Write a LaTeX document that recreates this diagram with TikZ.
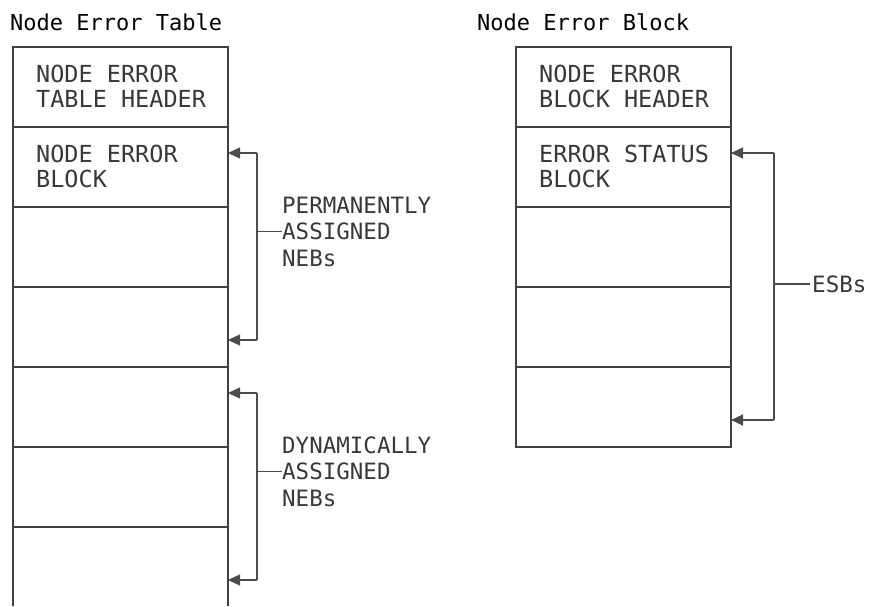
\documentclass[tikz,border=0pt]{standalone}
\usepackage{fontspec}
\newfontfamily\monofam{DejaVu Sans Mono}
\usetikzlibrary{arrows.meta}
\begin{document}
\begin{tikzpicture}[x=1pt,y=-1pt,
  row/.style={draw=black!75, line width=1.2pt, minimum width=215pt, minimum height=80pt, inner sep=0pt, outer sep=0pt, anchor=north west},
  openrow/.style={minimum width=215pt, minimum height=79pt, inner sep=0pt, outer sep=0pt, anchor=north west},
  boxtext/.style={font=\monofam\fontsize{23.5}{25}\selectfont, align=left, anchor=west, inner sep=0pt, text=black!78},
  brtext/.style={font=\monofam\fontsize{22.5}{26.5}\selectfont, align=left, anchor=west, inner sep=0pt, text=black!78},
  titletext/.style={font=\monofam\fontsize{22}{24}\selectfont, anchor=base west, inner sep=0pt, text=black},
  brline/.style={draw=black!70, line width=1.2pt},
  brarrow/.style={brline, -{Triangle[length=12pt,width=11pt]}}]
\useasboundingbox (0,0) rectangle (870,606);

% titles
\node[titletext] (title1) at (10,30) {Node Error Table};
\node[titletext] (title2) at (477,30) {Node Error Block};

% left table
\node[row] (r1) at (13,47) {};
\node[row] (r2) at (13,127) {};
\node[row] (r3) at (13,207) {};
\node[row] (r4) at (13,287) {};
\node[row] (r5) at (13,367) {};
\node[row] (r6) at (13,447) {};
\node[openrow] (r7) at (13,527) {};
\draw[draw=black!75, line width=1.2pt] (r7.north west) -- (r7.south west);
\draw[draw=black!75, line width=1.2pt] (r7.north east) -- (r7.south east);
\node[boxtext] (t1) at (36,86.5) {NODE ERROR\\TABLE HEADER};
\node[boxtext] (t2) at (36,166.5) {NODE ERROR\\BLOCK};

% right table
\node[row] (s1) at (516,47) {};
\node[row] (s2) at (516,127) {};
\node[row] (s3) at (516,207) {};
\node[row] (s4) at (516,287) {};
\node[row] (s5) at (516,367) {};
\node[boxtext] (u1) at (539,86.5) {NODE ERROR\\BLOCK HEADER};
\node[boxtext] (u2) at (539,166.5) {ERROR STATUS\\BLOCK};

% bracket labels
\node[brtext] (perm) at (282,231.5) {PERMANENTLY\\ASSIGNED\\NEBs};
\node[brtext] (dyn) at (282,471.5) {DYNAMICALLY\\ASSIGNED\\NEBs};
\node[brtext] (esb) at (812,284) {ESBs};

% brackets
\coordinate (k1) at (257,153);
\coordinate (k2) at (257,340);
\coordinate (k3) at (257,393);
\coordinate (k4) at (257,580);
\coordinate (k5) at (774,153);
\coordinate (k6) at (774,420);

\draw[brline] (k1) -- (k2);
\draw[brarrow] (k1) -- (k1 -| r2.east);
\draw[brarrow] (k2) -- (k2 -| r4.east);
\draw[brline] (k1 |- perm.west) -- (perm.west);

\draw[brline] (k3) -- (k4);
\draw[brarrow] (k3) -- (k3 -| r5.east);
\draw[brarrow] (k4) -- (k4 -| r7.east);
\draw[brline] (k3 |- dyn.west) -- (dyn.west);

\draw[brline] (k5) -- (k6);
\draw[brarrow] (k5) -- (k5 -| s2.east);
\draw[brarrow] (k6) -- (k6 -| s5.east);
\draw[brline] (k5 |- esb.west) -- ([xshift=-2pt]esb.west);
\end{tikzpicture}
\end{document}
